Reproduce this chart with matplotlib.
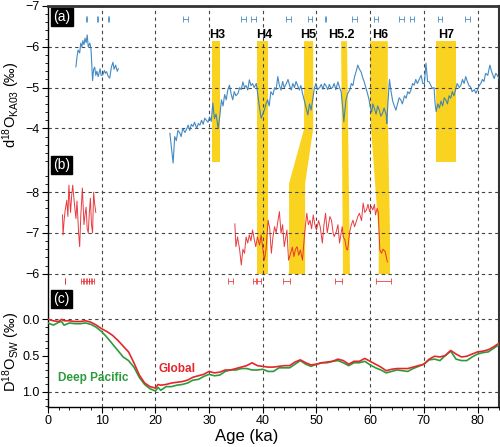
import numpy as np
import matplotlib
matplotlib.use("Agg")
import matplotlib.pyplot as plt

plt.rcParams['font.family'] = ['Liberation Sans', 'DejaVu Sans']
plt.rcParams['mathtext.fontset'] = 'custom'
plt.rcParams['mathtext.rm'] = 'Liberation Sans'
plt.rcParams['mathtext.it'] = 'Liberation Sans:italic'
plt.rcParams['mathtext.bf'] = 'Liberation Sans:bold'

# ---------- data ----------
# (a) KA03 record, two pieces
ka_a1 = [5.2, 5.4, 5.6, 5.9, 6.1, 6.3, 6.5, 6.7, 6.9, 7.1, 7.3, 7.5, 7.8, 8.0, 8.1, 8.3,
         8.5, 8.7, 8.9, 9.1, 9.35, 9.5, 9.7, 9.9, 10.2, 10.5, 10.7, 10.9, 11.2, 11.5,
         11.8, 12.1, 12.3, 12.6, 12.9, 13.1]
d18o_a1 = [-5.51, -5.75, -5.92, -5.85, -6.09, -6.0, -6.15, -6.05, -6.21, -6.1, -6.29, -6.0,
           -6.09, -5.95, -5.72, -5.17, -5.45, -5.5, -5.3, -5.4, -5.27, -5.35, -5.46, -5.3,
           -5.31, -5.42, -5.35, -5.39, -5.28, -5.23, -5.5, -5.62, -5.45, -5.55, -5.4, -5.46]

ka_a2 = [22.7, 23.0, 23.3, 23.6, 23.9, 24.2, 24.5, 24.8, 25.1, 25.5, 25.8, 26.1, 26.4, 26.7,
         27.0, 27.3, 27.7, 28.0, 28.3, 28.6, 28.9, 29.2, 29.5, 29.8, 30.1, 30.4, 30.7, 31.0,
         31.3, 31.7, 32.0, 32.3, 32.6, 32.9, 33.2, 33.5, 33.8, 34.1, 34.4, 34.7, 35.0, 35.4,
         35.7, 36.0, 36.3, 36.6, 36.9, 37.2, 37.5, 37.8, 38.1, 38.4, 38.8, 39.1, 39.4, 39.7,
         40.0, 40.3, 40.6, 40.9, 41.2, 41.5, 41.9, 42.2, 42.5, 42.8, 43.1, 43.4, 43.7, 44.0,
         44.4, 44.7, 45.0, 45.3, 45.6, 45.9, 46.2, 46.5, 46.8, 47.1, 47.4, 47.7, 48.0, 48.4,
         48.7, 49.0, 49.3, 49.6, 49.9, 50.2, 50.6, 50.9, 51.2, 51.5, 51.8, 52.1, 52.4, 52.7,
         53.0, 53.3, 53.6, 54.0, 54.3, 54.6, 54.9, 55.1, 55.3, 55.5, 55.8, 56.2, 56.5, 56.8,
         57.1, 57.4, 57.7, 58.0, 58.3, 58.6, 58.9, 59.2, 59.5, 59.8, 60.0, 60.3, 60.5, 60.8,
         61.1, 61.4, 61.7, 62.0, 62.3, 62.6, 63.0, 63.1, 63.3, 63.6, 63.9, 64.2, 64.5, 64.8,
         65.1, 65.4, 65.7, 66.0, 66.4, 66.7, 67.0, 67.3, 67.6, 67.9, 68.2, 68.5, 68.8, 69.1,
         69.5, 69.8, 70.1, 70.4, 70.7, 71.0, 71.3, 71.6, 71.9, 72.1, 72.3, 72.6, 72.9, 73.2,
         73.5, 73.8, 74.1, 74.4, 74.7, 75.0, 75.3, 75.6, 75.9, 76.2, 76.6, 76.9, 77.2, 77.5,
         77.8, 78.1, 78.4, 78.7, 79.0, 79.4, 79.7, 80.0, 80.3, 80.6, 80.9, 81.2, 81.5, 81.9,
         82.3, 82.6, 83.1, 83.4, 83.7, 84.0]
d18o_a2 = [-3.88, -3.52, -3.15, -3.8, -3.7, -3.95, -3.9, -3.8, -4.0, -3.9, -3.98, -4.08, -3.95,
           -4.1, -4.05, -4.15, -4.0, -4.12, -4.08, -4.2, -4.1, -4.25, -4.2, -4.15, -4.28, -4.17,
           -4.62, -4.24, -4.35, -4.0, -4.3, -4.7, -4.55, -4.83, -4.7, -4.95, -5.06, -4.85, -4.7,
           -4.9, -4.8, -4.86, -5.0, -4.95, -5.14, -5.0, -5.05, -4.94, -5.19, -5.05, -5.1, -5.0,
           -5.1, -4.8, -4.5, -4.25, -4.35, -4.45, -4.6, -4.7, -4.55, -4.9, -4.82, -5.0, -4.95,
           -5.27, -5.05, -4.94, -5.15, -5.0, -5.1, -5.2, -5.05, -4.94, -5.1, -5.0, -5.15, -5.05,
           -4.94, -5.05, -4.86, -4.7, -4.55, -4.33, -4.6, -4.45, -4.7, -4.98, -5.1, -4.95, -5.0,
           -5.08, -4.96, -5.1, -5.04, -4.95, -5.08, -4.98, -5.0, -5.1, -4.95, -5.14, -5.0, -4.9,
           -4.5, -4.16, -4.45, -4.7, -4.85, -4.94, -5.1, -5.05, -5.27, -5.4, -5.55, -5.45, -5.39,
           -5.25, -5.14, -5.0, -4.86, -4.7, -4.53, -4.4, -4.6, -4.49, -4.35, -4.55, -4.45, -4.3,
           -4.37, -4.5, -4.33, -4.12, -4.6, -5.2, -4.9, -4.67, -4.55, -4.45, -4.6, -4.75, -4.7,
           -4.6, -4.8, -4.74, -4.9, -4.85, -4.94, -5.1, -5.06, -5.2, -5.1, -5.19, -5.3, -5.1,
           -5.1, -5.6, -5.15, -5.14, -5.05, -4.98, -5.0, -4.6, -4.41, -4.6, -4.5, -4.67, -4.55,
           -4.75, -4.7, -4.6, -4.8, -4.74, -4.9, -4.8, -4.94, -5.1, -5.0, -5.06, -5.2, -5.1,
           -5.27, -5.15, -5.05, -5.02, -4.9, -4.95, -4.86, -4.95, -5.05, -5.1, -5.2, -5.15,
           -5.35, -5.3, -5.55, -5.4, -5.22, -5.35, -5.3, -5.22]

# (b) second record, two pieces
ka_b1 = [2.7, 2.8, 3.0, 3.2, 3.5, 3.7, 3.9, 4.2, 4.4, 4.6, 5.0, 5.2, 5.4, 5.7, 5.9, 6.1,
         6.4, 6.7, 6.9, 7.1, 7.3, 7.5, 7.7, 7.9, 8.1, 8.3, 8.5, 8.7, 8.9]
d18o_b1 = [-7.44, -6.95, -7.3, -7.56, -7.8, -7.4, -8.17, -7.5, -7.9, -8.17, -7.6, -7.35, -7.78,
           -7.0, -6.66, -7.4, -8.1, -7.2, -7.45, -7.63, -7.1, -7.0, -7.5, -7.85, -7.2, -7.0,
           -8.0, -7.7, -7.5]

ka_b2 = [34.8, 35.0, 35.3, 35.7, 36.0, 36.3, 36.6, 36.9, 37.2, 37.5, 37.8, 38.1, 38.4, 38.7,
         39.0, 39.4, 39.7, 40.0, 40.3, 40.6, 41.0, 41.3, 41.6, 41.9, 42.2, 42.5, 42.8, 43.1,
         43.4, 43.7, 44.0, 44.5, 44.8, 45.2, 45.5, 45.8, 46.1, 46.4, 46.7, 47.0, 47.4, 47.8,
         48.2, 48.5, 48.8, 49.1, 49.4, 49.7, 50.0, 50.4, 50.7, 51.1, 51.4, 51.7, 52.0, 52.2,
         52.5, 52.8, 53.1, 53.3, 53.7, 54.0, 54.3, 54.6, 54.8, 55.0, 55.3, 55.6, 55.8, 56.2,
         56.5, 56.8, 57.1, 57.4, 57.7, 58.0, 58.4, 58.7, 59.0, 59.3, 59.6, 59.9, 60.2, 60.5,
         60.8, 61.0, 61.3, 61.5, 61.8, 62.1, 62.4, 62.8, 63.2]
d18o_b2 = [-7.22, -6.66, -6.9, -6.58, -6.21, -6.6, -6.5, -6.9, -6.75, -6.95, -6.8, -7.07,
           -6.85, -6.66, -6.9, -6.7, -6.95, -6.62, -6.33, -6.58, -7.31, -7.1, -6.5, -6.9, -7.15,
           -7.0, -7.27, -7.52, -6.99, -7.2, -6.66, -7.07, -6.33, -6.5, -6.65, -6.42, -6.6, -6.66,
           -6.45, -6.58, -6.33, -6.99, -7.48, -7.2, -7.31, -7.1, -7.44, -7.2, -7.07, -7.3, -7.15,
           -6.75, -7.2, -7.48, -7.0, -7.15, -7.4, -7.31, -7.0, -6.91, -7.03, -7.2, -6.75, -7.0,
           -7.15, -6.9, -6.83, -6.6, -6.58, -7.03, -7.2, -7.31, -7.15, -7.27, -7.4, -7.48, -7.3,
           -7.73, -7.5, -7.56, -7.7, -7.52, -7.65, -7.56, -7.7, -7.44, -7.6, -7.52, -6.58, -6.5,
           -6.6, -6.54, -6.29]

# (c) seawater d18O
ka_c = [0, 1, 2, 2.5, 3, 4, 5, 6, 7, 8, 9, 10, 11, 12, 13, 14, 15, 16, 17, 18, 19, 20,
        20.5, 21, 22, 23, 24, 25, 26, 27, 28, 29, 30, 31, 32, 33, 34, 35, 36, 37, 38, 39,
        40, 41, 42, 43, 44, 45, 46, 47, 48, 49, 50, 51, 52, 53, 54, 55, 56, 57, 58, 59,
        60, 61, 62, 63, 64, 65, 66, 67, 68, 69, 70, 71, 72, 73, 74, 75, 76, 77, 78, 79,
        80, 81, 82, 83, 84]
sw_global = [0.0, 0.02, 0.03, 0.0, 0.02, 0.02, 0.03, 0.03, 0.02, 0.04, 0.08, 0.13, 0.17,
             0.22, 0.29, 0.37, 0.45, 0.6, 0.77, 0.88, 0.93, 0.95, 0.9, 0.91, 0.9, 0.88, 0.87,
             0.86, 0.84, 0.8, 0.78, 0.76, 0.72, 0.74, 0.73, 0.7, 0.7, 0.68, 0.66, 0.64, 0.6,
             0.64, 0.65, 0.66, 0.66, 0.65, 0.64, 0.64, 0.59, 0.56, 0.6, 0.63, 0.62, 0.6, 0.59,
             0.58, 0.55, 0.57, 0.62, 0.58, 0.58, 0.54, 0.58, 0.62, 0.66, 0.71, 0.69, 0.68,
             0.68, 0.68, 0.66, 0.64, 0.62, 0.55, 0.51, 0.52, 0.5, 0.43, 0.48, 0.52, 0.51, 0.48,
             0.45, 0.44, 0.42, 0.38, 0.33]
sw_pacific = [0.05, 0.08, 0.04, 0.03, 0.08, 0.05, 0.06, 0.06, 0.05, 0.07, 0.11, 0.17, 0.25,
              0.34, 0.43, 0.52, 0.57, 0.66, 0.8, 0.9, 0.96, 0.99, 0.94, 0.98, 0.93, 0.93, 0.91,
              0.9, 0.88, 0.84, 0.83, 0.79, 0.76, 0.78, 0.77, 0.72, 0.7, 0.7, 0.68, 0.68, 0.7,
              0.7, 0.69, 0.72, 0.72, 0.67, 0.67, 0.67, 0.62, 0.57, 0.62, 0.65, 0.62, 0.6, 0.6,
              0.58, 0.57, 0.6, 0.64, 0.6, 0.6, 0.58, 0.63, 0.67, 0.7, 0.74, 0.72, 0.7, 0.71,
              0.72, 0.68, 0.65, 0.62, 0.56, 0.55, 0.57, 0.5, 0.44, 0.55, 0.57, 0.57, 0.52, 0.48,
              0.46, 0.45, 0.4, 0.35]

# age control points (centre, half-width)
age_a = [7.2, 9.2, 11.3, 25.6, 36.4, 38.3, 44.8, 48.8, 51.7, 57.1, 61.1, 65.9, 67.8, 73.0, 78.1]
age_a_err = [0.05, 0.05, 0.05, 0.45, 0.45, 0.45, 0.45, 0.45, 0.1, 0.45, 0.45, 0.45, 0.45, 0.45, 0.45]
age_b = [3.2, 6.3, 6.9, 7.4, 7.9, 8.4, 34.0, 38.4, 39.3, 44.4, 54.1, 62.5]
age_b_err = [0.05, 0.2, 0.2, 0.2, 0.2, 0.2, 0.5, 0.3, 0.3, 0.7, 0.7, 1.4]

# Heinrich events: name, label x
h_names = ['H3', 'H4', 'H5', 'H5.2', 'H6', 'H7']
h_label_x = [31.6, 40.2, 48.5, 54.6, 61.9, 74.2]

# ---------- layout ----------
A_LIM = (2.82, -7.0)
B_LIM = (-2.74, -12.56)
C_LIM = (1.207, -4.33)


def b2a(v):
    return A_LIM[1] + (v - B_LIM[1]) * (A_LIM[0] - A_LIM[1]) / (B_LIM[0] - B_LIM[1])


TOP = -6.15
# band outlines (levels in panel-a units, left and right edges in ka)
bands = [
    ([TOP, -3.18], [30.5, 30.5], [32.0, 32.0]),
    ([TOP, b2a(-6.0)], [38.85, 38.85], [40.9, 40.9]),
    ([TOP, -4.0, b2a(-8.22), b2a(-6.0)], [47.6, 47.6, 44.8, 44.8], [49.3, 49.3, 47.8, 47.8]),
    ([TOP, b2a(-6.0)], [54.5, 54.85], [55.6, 56.15]),
    ([TOP, -4.35, b2a(-7.0), b2a(-6.0)], [59.9, 59.9, 61.5, 61.5], [63.2, 63.2, 63.6, 63.6]),
    ([TOP, -3.18], [72.2, 72.2], [75.9, 75.9]),
]

BLUE = '#2f7dbd'
RED = '#e5262b'
GREEN = '#2c9b3c'
YELLOW = '#fad321'
GRID = dict(color='#444444', ls=(0, (3, 3)), lw=0.8)

fig = plt.figure(figsize=(5, 4.47), dpi=100)
pos = [0.096, 0.0902, 0.902, 0.8964]
ax_a = fig.add_axes(pos)
ax_b = fig.add_axes(pos, sharex=ax_a)
ax_c = fig.add_axes(pos, sharex=ax_a)

ax_a.set_xlim(0, 84)
ax_a.set_ylim(*A_LIM)
ax_b.set_ylim(*B_LIM)
ax_c.set_ylim(*C_LIM)

for ax in (ax_b, ax_c):
    ax.patch.set_visible(False)
    for s in ax.spines.values():
        s.set_visible(False)
    ax.tick_params(axis='x', which='both', bottom=False, labelbottom=False)

for s in ax_a.spines.values():
    s.set_linewidth(1.0)
ax_a.spines['top'].set_linewidth(2.0)
ax_a.spines['top'].set_color('#333333')
ax_a.spines['right'].set_linewidth(1.5)
ax_a.spines['right'].set_color('#333333')

# yellow bands
for lev, left, right in bands:
    ax_a.fill_betweenx(lev, left, right, color=YELLOW, lw=0, zorder=1)

# grid
for x in range(10, 81, 10):
    ax_a.axvline(x, zorder=1.5, **GRID)
for v in [-6, -5, -4]:
    ax_a.axhline(v, zorder=1.5, **GRID)
for v in [-8, -7, -6]:
    ax_b.axhline(v, zorder=1.5, **GRID)
for v in [0.0, 1.0]:
    ax_c.axhline(v, zorder=1.5, **GRID)

# records
ax_a.plot(ka_a1, d18o_a1, color=BLUE, lw=0.8, alpha=0.9, zorder=3)
ax_a.plot(ka_a2, d18o_a2, color=BLUE, lw=0.8, alpha=0.9, zorder=3)
ax_b.plot(ka_b1, d18o_b1, color=RED, lw=0.7, alpha=0.9, zorder=3)
ax_b.plot(ka_b2, d18o_b2, color=RED, lw=0.7, alpha=0.9, zorder=3)
ax_c.plot(ka_c, sw_pacific, color=GREEN, lw=1.2, zorder=3)
ax_c.plot(ka_c, sw_global, color=RED, lw=1.2, zorder=3)

ax_a.errorbar(age_a, [-6.68] * len(age_a), xerr=age_a_err, fmt='none',
              ecolor=BLUE, elinewidth=0.7, capsize=2.2, capthick=0.7, alpha=0.75, zorder=3)
ax_b.errorbar(age_b, [-5.82] * len(age_b), xerr=age_b_err, fmt='none',
              ecolor=RED, elinewidth=0.7, capsize=2.2, capthick=0.7, alpha=0.75, zorder=3)

for name, x in zip(h_names, h_label_x):
    ax_a.text(x, -6.3, name, ha='center', va='center', fontsize=9,
              fontweight='bold', zorder=4)

ax_c.text(20.6, 0.69, 'Global', color=RED, fontsize=8.5, fontweight='bold',
          ha='left', va='center')
ax_c.text(1.9, 0.81, 'Deep Pacific', color=GREEN, fontsize=8.5, fontweight='bold',
          ha='left', va='center')

# panel tags
for ax, y, tag in [(ax_a, 0.990, '(a)'), (ax_a, 0.621, '(b)'), (ax_a, 0.287, '(c)')]:
    ax.text(0.012, y, tag, transform=ax.transAxes, color='white', fontsize=10,
            ha='left', va='top', zorder=6,
            bbox=dict(boxstyle='square,pad=0.15', fc='black', ec='black'))

# ticks
ax_a.set_xticks(range(0, 81, 10))
ax_a.set_xticks(range(0, 85, 2), minor=True)
ax_a.set_yticks([-7, -6, -5, -4])
ax_a.set_yticks(np.arange(-7, -3.1, 0.2), minor=True)
ax_b.set_yticks([-8, -7, -6])
ax_b.set_yticks(np.arange(-8.4, -5.9, 0.2), minor=True)
ax_c.set_yticks([0.0, 0.5, 1.0])
ax_c.set_yticklabels(['0.0', '0.5', '1.0'])
ax_c.set_yticks(np.arange(0, 1.21, 0.1), minor=True)
for ax in (ax_a, ax_b, ax_c):
    ax.tick_params(axis='both', which='major', direction='out', length=4, width=0.8,
                   labelsize=9, pad=2)
    ax.tick_params(axis='both', which='minor', direction='out', length=2.2, width=0.6)

ax_a.set_xlabel('Age (ka)', fontsize=12, labelpad=1)
ax_a.xaxis.set_label_coords(0.44, -0.055)

fig.text(0.022, 1 - 105 / 447, 'd$^{18}$O$_{\\rm KA03}$ (‰)', rotation=90,
         ha='center', va='center', fontsize=10.5)
fig.text(0.022, 1 - 352 / 447, 'D$^{18}$O$_{\\rm SW}$ (‰)', rotation=90,
         ha='center', va='center', fontsize=10.5)

fig.savefig('out.png', dpi=100)
